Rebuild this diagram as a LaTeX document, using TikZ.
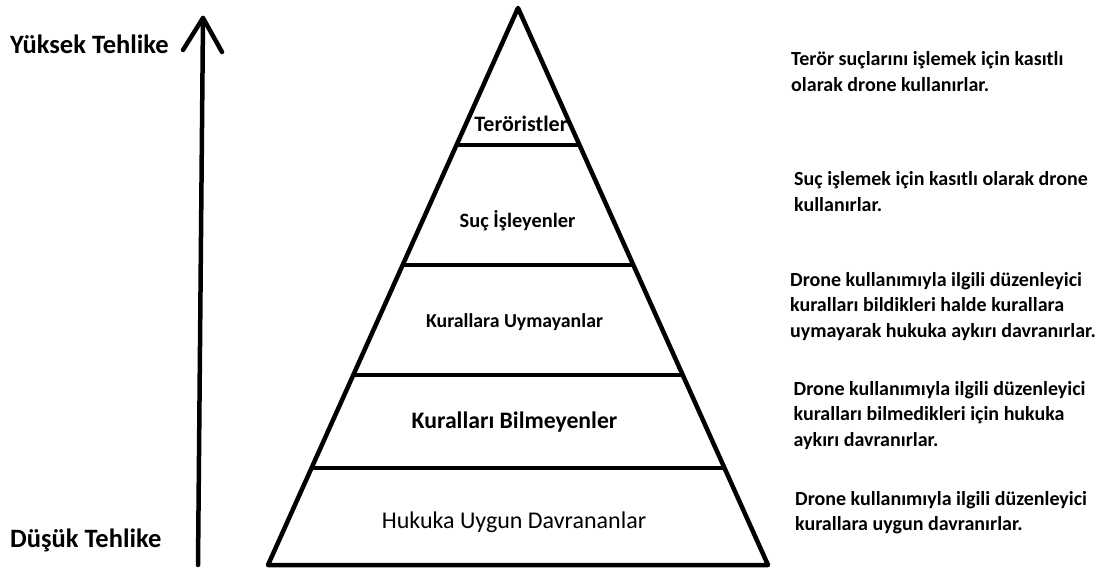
\documentclass[tikz,border=0pt]{standalone}
\usepackage{fontspec}
\setmainfont{Carlito}
\usetikzlibrary{calc}
\begin{document}
\begin{tikzpicture}[x=1pt,y=-1pt,
  lbl/.style={font=\bfseries\fontsize{#1}{#1}\selectfont, inner sep=0pt, anchor=base},
  desc/.style={font=\bfseries\fontsize{20}{25.5}\selectfont, align=left, anchor=base west, inner sep=0pt},
  thick line/.style={line width=4.5pt, line cap=round, line join=round}]
\useasboundingbox (0,0) rectangle (1102,569);
% pyramid
\coordinate (apex) at (518,8);
\coordinate (bl) at (268,565);
\coordinate (br) at (768,565);
\draw[thick line] (bl) -- (apex) -- (br) -- cycle;
\foreach \yy in {145,265,375,468}{
  \draw[line width=4.5pt] ($(apex)!{(\yy-8)/557}!(bl)$) -- ($(apex)!{(\yy-8)/557}!(br)$);
}
% labels inside
\node[lbl=22] (t1) at (521,132) {Teröristler};
\node[lbl=20.4] (t2) at (517.5,228) {Suç İşleyenler};
\node[lbl=19.8] (t3) at (514.5,327) {Kurallara Uymayanlar};
\node[lbl=23.7] (t4) at (514.5,428) {Kuralları Bilmeyenler};
\node[font=\fontsize{24}{24}\selectfont, inner sep=0pt, anchor=base] (t5) at (514,528) {Hukuka Uygun Davrananlar};
% arrow
\coordinate (abot) at (198,565);
\coordinate (atop) at (203,18);
\draw[thick line] (abot) -- (atop);
\draw[thick line] (183,50) -- (atop) -- (222,52);
% left labels
\node[lbl=26.5, anchor=base west] (hi) at (10,53.5) {Yüksek Tehlike};
\node[lbl=26.5, anchor=base west] (lo) at (10,547) {Düşük Tehlike};
% right descriptions (base anchor = baseline of the last line)
\node[desc] (d1) at (791,91.5) {Terör suçlarını işlemek için kasıtlı\\olarak drone kullanırlar.};
\node[desc] (d2) at (794,211.5) {Suç işlemek için kasıtlı olarak drone\\kullanırlar.};
\node[desc] (d3) at (790,337) {Drone kullanımıyla ilgili düzenleyici\\kuralları bildikleri halde kurallara\\uymayarak hukuka aykırı davranırlar.};
\node[desc] (d4) at (793.5,446) {Drone kullanımıyla ilgili düzenleyici\\kuralları bilmedikleri için hukuka\\aykırı davranırlar.};
\node[desc] (d5) at (795,530.5) {Drone kullanımıyla ilgili düzenleyici\\kurallara uygun davranırlar.};
\end{tikzpicture}
\end{document}
